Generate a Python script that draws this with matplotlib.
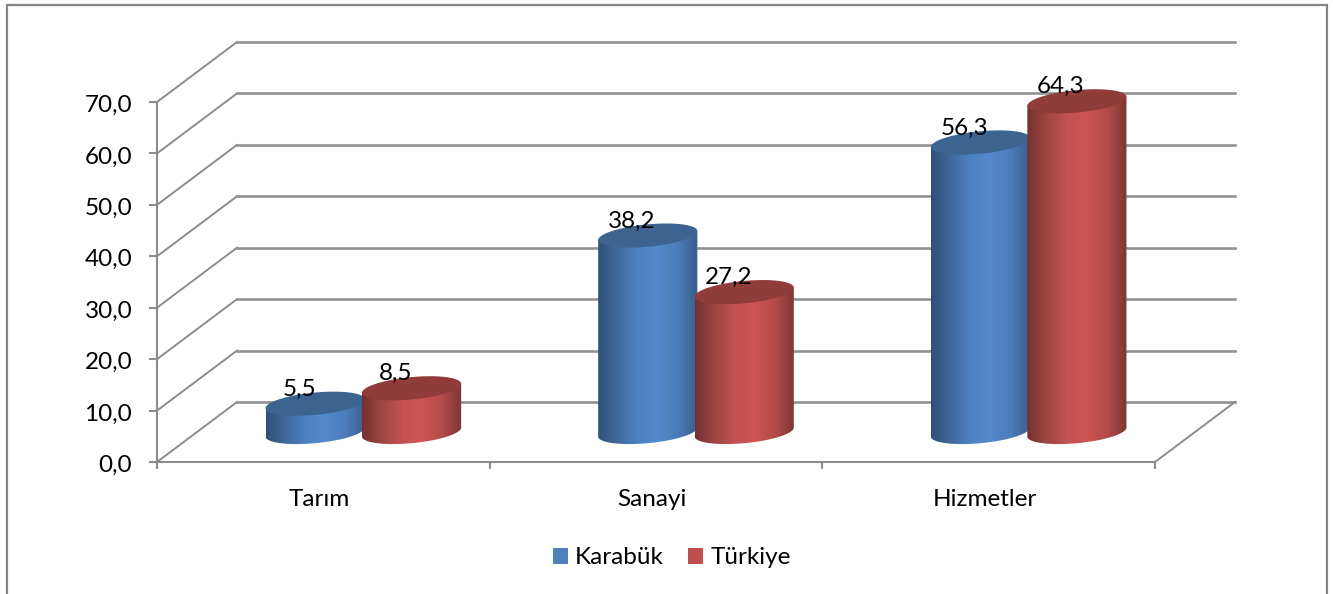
import numpy as np
import matplotlib.pyplot as plt
from matplotlib.colors import LinearSegmentedColormap
from matplotlib.patches import Patch, Polygon, Rectangle
from matplotlib.transforms import ScaledTranslation

plt.rcParams['font.family'] = ['Lato', 'DejaVu Sans']

categories = ['Tarım', 'Sanayi', 'Hizmetler']
series_names = ['Karabük', 'Türkiye']
karabuk = [5.5, 38.2, 56.3]
turkiye = [8.5, 27.2, 64.3]
y_ticks = [0, 10, 20, 30, 40, 50, 60, 70]
y_tick_labels = ['0,0', '10,0', '20,0', '30,0', '40,0', '50,0', '60,0', '70,0']

W, H = 1333, 594
GRID = '#8c8c8c'
FS = 17.5

fig = plt.figure(figsize=(W / 100, H / 100), dpi=100)
fig.add_artist(Rectangle((7 / W, -0.05), 1320 / W, 1.05 - 5 / H, transform=fig.transFigure,
                         facecolor='white', edgecolor='#868686', linewidth=1.6, zorder=-5))

# on-screen floor of the plot, everything else goes through the data scale
ax = fig.add_axes([157 / W, (H - 462) / H, 998 / W, 360 / H])
ax.set_xlim(0, 3)
ax.set_ylim(0, 70)
ax.patch.set_alpha(0)

px_x = 998 / 3   # pixels per category
px_y = 360 / 70  # pixels per value unit
depth_x = 80 / px_x
depth_y = 60 / px_y

# walls and floor
for v in y_ticks:
    ax.plot([0, depth_x], [v, v + depth_y], color=GRID, lw=1.4, clip_on=False, zorder=1)
    ax.plot([depth_x, 3 + depth_x], [v + depth_y, v + depth_y], color='#929292', lw=1.9,
            clip_on=False, zorder=1)
ax.plot([3, 3 + depth_x], [0, depth_y], color=GRID, lw=1.4, clip_on=False, zorder=1)

for s in ['top', 'right']:
    ax.spines[s].set_visible(False)
for s in ['left', 'bottom']:
    ax.spines[s].set_color(GRID)
    ax.spines[s].set_linewidth(1.5)
ax.set_yticks(y_ticks)
ax.set_yticklabels(y_tick_labels, fontsize=FS, color='black')
ax.set_xticks([0, 1, 2, 3])
ax.set_xticklabels([])
ax.tick_params(axis='y', color=GRID, width=1.5, length=5.8, pad=12)
ax.tick_params(axis='x', color=GRID, width=1.5, length=5, pad=0)
for lab in ax.get_yticklabels():
    lab.set_transform(lab.get_transform() + ScaledTranslation(0, -1.5 / 100, fig.dpi_scale_trans))

half_w = 0.149
offset = 0.145
tilt = 4.5 / px_y
minor = 11.2 / px_y

blue_side = LinearSegmentedColormap.from_list('b', ['#2f5078', '#42699d', '#4f82c2', '#5489cd', '#4c7cb9', '#3a5d8a'])
red_side = LinearSegmentedColormap.from_list('r', ['#743130', '#9f4543', '#c35250', '#cd5552', '#b34b49', '#7c3735'])
top_cols = ['#3d6491', '#8f3c3a']


def cylinder(cx, value, cmap, top_col, z):
    base = depth_y / 2
    top = base + value
    t = np.linspace(0, np.pi, 80)
    # lower half of the base ellipse, then back over the top ellipse
    xs = cx - half_w * np.cos(t)
    low = base - tilt * np.cos(t) - minor * np.sin(t)
    body = Polygon(np.r_[np.c_[xs, low], [[cx + half_w, top + tilt], [cx - half_w, top - tilt]]],
                   transform=ax.transData)
    im = ax.imshow(np.linspace(0, 1, 256)[None, :], cmap=cmap, aspect='auto', zorder=z,
                   extent=[cx - half_w, cx + half_w, base - 4, top + 4], interpolation='bilinear')
    im.set_clip_path(body)
    im.set_clip_box(fig.bbox)
    t2 = np.linspace(0, 2 * np.pi, 160)
    ax.fill(cx + half_w * np.cos(t2), top + tilt * np.cos(t2) + minor * np.sin(t2),
            color=top_col, lw=0, zorder=z + 0.1, clip_on=False)
    ax.text(cx - 16 / px_x, top + 8 / px_y, f'{value:.1f}'.replace('.', ','), fontsize=FS,
            ha='center', va='baseline', color='black', zorder=20, clip_on=False)


z = 3
for i in range(len(categories)):
    cx = i + 0.5 + depth_x / 2
    cylinder(cx - offset, karabuk[i], blue_side, top_cols[0], z)
    cylinder(cx + offset, turkiye[i], red_side, top_cols[1], z + 1)
    z += 2

for i, name in enumerate(categories):
    ax.text(i + 0.5 - 4 / px_x, -37 / px_y, name, fontsize=FS, ha='center', va='center', color='black',
            clip_on=False)

ax.set_xlim(0, 3)
ax.set_ylim(0, 70)

handles = [Patch(facecolor='#4f81bd', label=series_names[0]), Patch(facecolor='#c0504d', label=series_names[1])]
fig.legend(handles=handles, loc='center', bbox_to_anchor=(672 / W, (H - 558) / H), ncol=2, frameon=False,
           fontsize=FS, handlelength=0.62, handleheight=0.62, handletextpad=0.3, columnspacing=1.0)

fig.savefig('out.png', dpi=100)
